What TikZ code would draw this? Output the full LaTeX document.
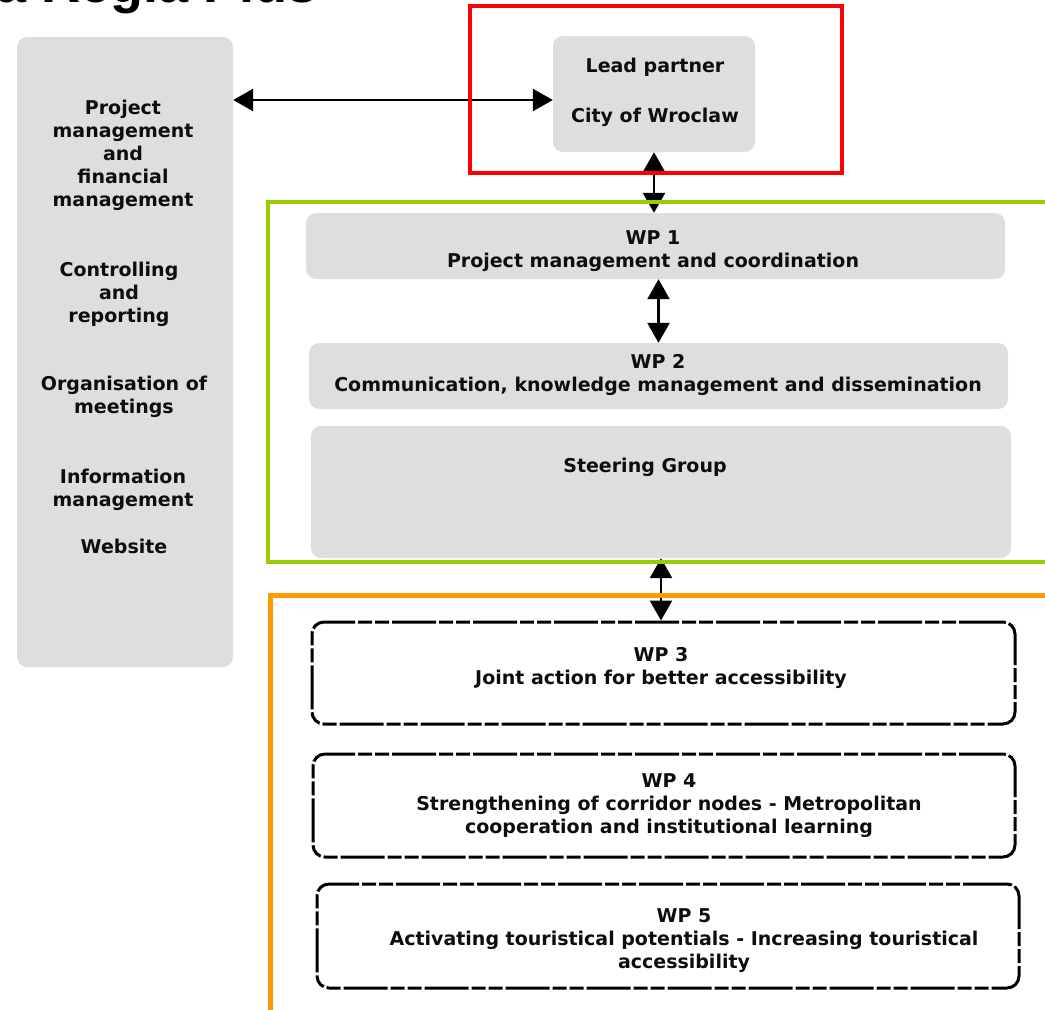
\documentclass[tikz,border=0pt]{standalone}
\usepackage{fontspec}
\setmainfont{DejaVu Sans}
\newfontfamily\titlefont{Liberation Sans}
\usetikzlibrary{arrows.meta,calc}
\definecolor{boxgray}{HTML}{DEDEDE}
\definecolor{framegreen}{HTML}{99CC00}
\definecolor{frameorange}{HTML}{FF9900}
\definecolor{framered}{HTML}{FF0000}
\tikzset{
  graybox/.style={fill=boxgray, draw=none, rounded corners=10pt, inner sep=0pt},
  wpbox/.style={draw=black, line width=3pt, rounded corners=12pt, inner sep=0pt,
    dash pattern=on 44pt off 3pt on 14pt off 3pt on 14pt off 3pt},
  lbl/.style={font=\bfseries\fontsize{19}{23}\selectfont, align=center, inner sep=0pt, text=black!95},
  dblarrow/.style={line width=2.6pt, {Triangle[length=20pt,width=22pt]}-{Triangle[length=20pt,width=22pt]}},
  frame/.style={line width=4pt}
}
\begin{document}
\begin{tikzpicture}[x=1pt,y=-1pt]
\useasboundingbox (0,0) rectangle (1045,1010);
\clip (0,0) rectangle (1045,1010);
% title (cut off at the top edge, as in the reference)
\node[anchor=base west, inner sep=0pt, font=\titlefont\bfseries\fontsize{54}{54}\selectfont] (title) at (-4,2) {a Regia Plus};
% left box
\node[graybox, minimum width=216pt, minimum height=630pt] (left) at (125,352) {};
\node[lbl] (l1) at (123,155) {Project\\management\\and\\financial\\management};
\node[lbl] (l2) at (119,294) {Controlling\\and\\reporting};
\node[lbl] (l3) at (124,397) {Organisation of\\meetings};
\node[lbl] (l4) at (123,489.5) {Information\\management};
\node[lbl] (l5) at (124,546) {Website};
% lead partner
\node[graybox, minimum width=202pt, minimum height=116pt] (lead) at (654,94) {};
\node[lbl] (lp1) at (655,67) {Lead partner};
\node[lbl] (lp2) at (655,117) {City of Wroclaw};
% WP1, WP2, steering
\node[graybox, minimum width=699pt, minimum height=66pt] (wp1) at (655.5,246) {};
\node[lbl] (wp1t) at (653,251) {WP 1\\Project management and coordination};
\node[graybox, minimum width=699pt, minimum height=66pt] (wp2) at (658.5,376) {};
\node[lbl] (wp2t) at (658,375) {WP 2\\Communication, knowledge management and dissemination};
\node[graybox, minimum width=700pt, minimum height=132pt] (sg) at (661,492) {};
\node[lbl] (sgt) at (645,467) {Steering Group};
% WP3-5
\node[wpbox, minimum width=703pt, minimum height=102pt] (wp3) at (663.5,673) {};
\node[lbl] (wp3t) at (661,668) {WP 3\\Joint action for better accessibility};
\node[wpbox, minimum width=702pt, minimum height=103pt] (wp4) at (664,805.5) {};
\node[lbl] (wp4t) at (669,806) {WP 4\\Strengthening of corridor nodes - Metropolitan\\cooperation and institutional learning};
\node[wpbox, minimum width=702pt, minimum height=104pt] (wp5) at (668,936) {};
\node[lbl] (wp5t) at (684,941) {WP 5\\Activating touristical potentials - Increasing touristical\\accessibility};
% arrows
\coordinate (hA) at ($(lead.west)+(0,6)$);
\draw[dblarrow] (left.east |- hA) -- (hA);
\draw[dblarrow] (lead.south) -- (wp1.north -| lead.south);
\coordinate (v2) at ($(wp1.south)+(3,0)$);
\draw[dblarrow] (v2) -- (wp2.north -| v2);
\draw[dblarrow] (sg.south) -- (wp3.north -| sg.south);
% frames
\draw[frame, framegreen] (268,202) rectangle (1060,562);
\draw[frame, frameorange, line width=5pt] (270,595) rectangle (1060,1030);
\draw[frame, framered] (470,6) rectangle (842,173);
\end{tikzpicture}
\end{document}
